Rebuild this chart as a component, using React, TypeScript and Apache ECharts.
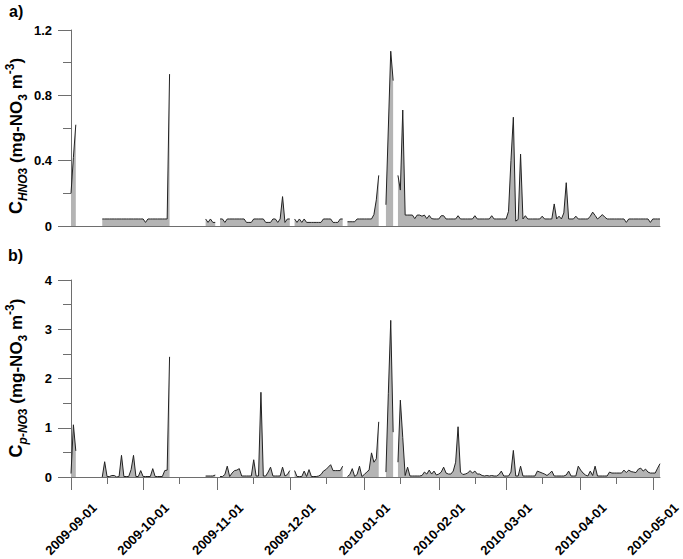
import React, { useEffect, useRef } from "react";
import * as echarts from "echarts";

// x positions are day offsets from 2009-09-01
const monthDays = [0, 30, 61, 91, 122, 153, 181, 212, 242];
const monthLabels = [
  "2009-09-01", "2009-10-01", "2009-11-01", "2009-12-01", "2010-01-01",
  "2010-02-01", "2010-03-01", "2010-04-01", "2010-05-01",
];
const midMonthDays = [15, 45, 76, 106, 137, 168, 196, 227];
const lastDay = 245;

// Panel a) gaseous HNO3 (mg-NO3 m-3), one value per day, null = no data
const hno3: (number | null)[] = [
  0.2, 0.42, 0.62, null, null, null, null, null, null, null,
  null, null, null, 0.043, 0.043, 0.043, 0.043, 0.043, 0.043, 0.043,
  0.043, 0.043, 0.043, 0.043, 0.043, 0.043, 0.043, 0.043, 0.043, 0.043,
  0.043, 0.022, 0.043, 0.043, 0.043, 0.043, 0.043, 0.043, 0.043, 0.043,
  0.043, 0.93, null, null, null, null, null, null, null, null,
  null, null, null, null, null, null, 0.043, 0.022, 0.043, 0.022,
  0.022, null, 0.043, 0.043, 0.022, 0.043, 0.043, 0.043, 0.043, 0.043,
  0.043, 0.043, 0.043, 0.022, 0.022, 0.022, 0.043, 0.043, 0.043, 0.043,
  0.043, 0.022, 0.022, 0.022, 0.043, 0.043, 0.022, 0.043, 0.18, 0.022,
  0.043, 0.043, null, 0.043, 0.022, 0.043, 0.022, 0.043, 0.022, 0.022,
  0.022, 0.022, 0.022, 0.022, 0.022, 0.043, 0.043, 0.043, 0.043, 0.022,
  0.022, 0.022, 0.043, 0.043, null, 0.026, 0.026, 0.026, 0.026, 0.043,
  0.043, 0.043, 0.043, 0.043, 0.043, 0.043, 0.07, 0.16, 0.31, null,
  null, 0.13, 0.6, 1.07, 0.89, null, 0.31, 0.22, 0.71, 0.067,
  0.067, 0.067, 0.067, 0.045, 0.067, 0.067, 0.06, 0.067, 0.045, 0.065,
  0.045, 0.043, 0.043, 0.043, 0.063, 0.063, 0.043, 0.043, 0.043, 0.043,
  0.043, 0.063, 0.043, 0.043, 0.043, 0.043, 0.043, 0.043, 0.063, 0.043,
  0.043, 0.043, 0.043, 0.043, 0.043, 0.063, 0.043, 0.043, 0.043, 0.043,
  0.043, 0.043, 0.09, 0.4, 0.666, 0.03, 0.04, 0.44, 0.043, 0.063,
  0.043, 0.043, 0.043, 0.043, 0.043, 0.043, 0.06, 0.043, 0.043, 0.043,
  0.043, 0.135, 0.043, 0.06, 0.043, 0.08, 0.265, 0.043, 0.043, 0.043,
  0.06, 0.043, 0.043, 0.043, 0.043, 0.043, 0.06, 0.085, 0.065, 0.043,
  0.055, 0.07, 0.055, 0.043, 0.043, 0.043, 0.043, 0.043, 0.043, 0.043,
  0.043, 0.022, 0.043, 0.043, 0.043, 0.043, 0.043, 0.043, 0.043, 0.043,
  0.043, 0.022, 0.043, 0.043, 0.043, 0.043,
];

// Panel b) particulate NO3 (mg-NO3 m-3)
const pno3: (number | null)[] = [
  0.07, 1.06, 0.53, null, null, null, null, null, null, null,
  null, null, null, 0.0, 0.31, 0.01, 0.01, 0.03, 0.03, 0.0,
  0.01, 0.44, 0.01, 0.01, 0.01, 0.15, 0.44, 0.01, 0.01, 0.13,
  0.01, 0.01, 0.01, 0.01, 0.17, 0.01, 0.01, 0.01, 0.01, 0.13,
  0.14, 2.44, null, null, null, null, null, null, null, null,
  null, null, null, null, null, null, 0.02, 0.02, 0.02, 0.02,
  0.04, null, 0.01, 0.01, 0.05, 0.22, 0.01, 0.08, 0.13, 0.14,
  0.17, 0.02, 0.02, 0.02, 0.02, 0.02, 0.35, 0.02, 0.02, 1.72,
  0.02, 0.02, 0.1, 0.2, 0.02, 0.02, 0.02, 0.02, 0.2, 0.02,
  0.05, 0.13, null, 0.13, 0.01, 0.01, 0.01, 0.12, 0.01, 0.15,
  0.01, 0.01, 0.01, 0.02, 0.05, 0.12, 0.15, 0.2, 0.25, 0.13,
  0.13, 0.13, 0.13, 0.22, null, 0.01, 0.05, 0.17, 0.01, 0.05,
  0.22, 0.01, 0.05, 0.1, 0.14, 0.49, 0.3, 0.37, 1.12, null,
  null, 0.1, 1.7, 3.18, 0.91, null, 0.3, 1.56, 0.8, 0.03,
  0.2, 0.02, 0.02, 0.02, 0.02, 0.02, 0.03, 0.1, 0.06, 0.14,
  0.06, 0.12, 0.04, 0.06, 0.1, 0.2, 0.08, 0.06, 0.06, 0.12,
  0.3, 1.02, 0.1, 0.05, 0.06, 0.08, 0.13, 0.08, 0.12, 0.06,
  0.06, 0.03, 0.02, 0.03, 0.02, 0.03, 0.02, 0.02, 0.05, 0.12,
  0.02, 0.02, 0.02, 0.1, 0.54, 0.02, 0.02, 0.22, 0.02, 0.02,
  0.02, 0.02, 0.02, 0.02, 0.12, 0.1, 0.08, 0.06, 0.03, 0.07,
  0.12, 0.02, 0.02, 0.02, 0.02, 0.02, 0.04, 0.12, 0.02, 0.02,
  0.02, 0.22, 0.14, 0.08, 0.04, 0.02, 0.12, 0.03, 0.22, 0.02,
  0.02, 0.02, 0.02, 0.02, 0.1, 0.08, 0.08, 0.08, 0.08, 0.08,
  0.14, 0.09, 0.14, 0.11, 0.1, 0.09, 0.16, 0.18, 0.12, 0.16,
  0.1, 0.08, 0.08, 0.08, 0.18, 0.27,
];

const FONT = '"Liberation Sans", Arial, Helvetica, sans-serif';
const AXIS_GRAY = "#6e6e6e";
const FILL = "#b4b4b4";
const LINE = "#222222";

function titleRich() {
  return {
    c: { fontSize: 18, fontWeight: "bold", fontFamily: FONT, lineHeight: 26 },
    n: { fontSize: 17, fontWeight: "bold", fontFamily: FONT, lineHeight: 26 },
    subi: { fontSize: 12, fontWeight: "bold", fontStyle: "italic", fontFamily: FONT, lineHeight: 13, padding: [13, 0, 0, 0] },
    sub: { fontSize: 12, fontWeight: "bold", fontFamily: FONT, lineHeight: 13, padding: [13, 0, 0, 0] },
    sup: { fontSize: 12, fontWeight: "bold", fontFamily: FONT, lineHeight: 13, padding: [0, 0, 13, 0] },
  };
}

export default function App() {
  const ref = useRef<HTMLDivElement>(null);

  useEffect(() => {
    if (!ref.current) return;
    const chart = echarts.init(ref.current, null, { renderer: "svg" });

    const yLabel = {
      color: "#000",
      fontFamily: FONT,
      fontWeight: "bold",
      fontSize: 13,
      margin: 19,
    };

    const option: any = {
      animation: false,
      backgroundColor: "#fff",
      grid: [
        { left: 71, top: 30, width: 589, height: 196, outerBoundsMode: "none" },
        { left: 71, top: 280, width: 589, height: 197, outerBoundsMode: "none" },
      ],
      xAxis: [
        {
          type: "value", gridIndex: 0, min: 0, max: lastDay, position: "bottom",
          axisLine: { show: true, lineStyle: { color: AXIS_GRAY, width: 1 } },
          axisTick: { show: false },
          axisLabel: { show: false },
          splitLine: { show: false },
        },
        {
          type: "value", gridIndex: 1, min: 0, max: lastDay, position: "bottom",
          axisLine: { show: true, lineStyle: { color: AXIS_GRAY, width: 1 } },
          axisTick: { show: true, length: 13, customValues: monthDays, lineStyle: { color: AXIS_GRAY } },
          axisLabel: {
            show: true,
            customValues: monthDays,
            formatter: (v: number) => {
              const k = monthDays.indexOf(Math.round(v));
              return k >= 0 ? monthLabels[k] : "";
            },
            rotate: 45,
            align: "center",
            verticalAlign: "middle",
            margin: 52,
            color: "#000",
            fontFamily: FONT,
            fontWeight: "bold",
            fontSize: 13,
          },
          splitLine: { show: false },
        },
        {
          type: "value", gridIndex: 1, min: 0, max: lastDay, position: "bottom",
          axisLine: { show: false },
          axisTick: { show: true, length: 7, customValues: midMonthDays, lineStyle: { color: AXIS_GRAY } },
          axisLabel: { show: false },
          splitLine: { show: false },
        },
      ],
      yAxis: [
        {
          type: "value", gridIndex: 0, min: 0, max: 1.2, interval: 0.4,
          axisLine: { show: true, lineStyle: { color: AXIS_GRAY, width: 1 } },
          axisTick: { show: true, length: 13, lineStyle: { color: AXIS_GRAY } },
          minorTick: { show: true, splitNumber: 2, length: 8, lineStyle: { color: AXIS_GRAY } },
          axisLabel: {
            ...yLabel,
            formatter: (v: number) => (Math.abs(v) < 1e-9 ? "0" : (Math.round(v * 10) / 10).toFixed(1)),
          },
          splitLine: { show: false },
          minorSplitLine: { show: false },
        },
        {
          type: "value", gridIndex: 1, min: 0, max: 4, interval: 1,
          axisLine: { show: true, lineStyle: { color: AXIS_GRAY, width: 1 } },
          axisTick: { show: true, length: 13, lineStyle: { color: AXIS_GRAY } },
          minorTick: { show: true, splitNumber: 2, length: 8, lineStyle: { color: AXIS_GRAY } },
          axisLabel: { ...yLabel, formatter: (v: number) => String(Math.round(v)) },
          splitLine: { show: false },
          minorSplitLine: { show: false },
        },
      ],
      series: [
        {
          name: "HNO3",
          type: "line",
          xAxisIndex: 0,
          yAxisIndex: 0,
          data: hno3.map((v, i) => [i, v]),
          showSymbol: false,
          symbol: "none",
          connectNulls: false,
          lineStyle: { color: LINE, width: 1 },
          areaStyle: { color: FILL, opacity: 1 },
          emphasis: { disabled: true },
        },
        {
          name: "p-NO3",
          type: "line",
          xAxisIndex: 1,
          yAxisIndex: 1,
          data: pno3.map((v, i) => [i, v]),
          showSymbol: false,
          symbol: "none",
          connectNulls: false,
          lineStyle: { color: LINE, width: 1 },
          areaStyle: { color: FILL, opacity: 1 },
          emphasis: { disabled: true },
        },
      ],
      graphic: [
        {
          type: "text", left: 9, top: 3,
          style: { text: "a)", fill: "#000", font: `bold 16px ${FONT}` },
        },
        {
          type: "text", left: 8, top: 247,
          style: { text: "b)", fill: "#000", font: `bold 16px ${FONT}` },
        },
        {
          type: "text", x: 16, y: 136, rotation: Math.PI / 2,
          style: {
            text: "{c|C}{subi|HNO}{sub|3}{n| (mg-NO}{sub|3}{n| m}{sup|-3}{n|)}",
            rich: titleRich(),
            fill: "#000",
            align: "center",
            verticalAlign: "middle",
          },
        },
        {
          type: "text", x: 16, y: 378, rotation: Math.PI / 2,
          style: {
            text: "{c|C}{subi|p-NO}{sub|3}{n| (mg-NO}{sub|3}{n| m}{sup|-3}{n|)}",
            rich: titleRich(),
            fill: "#000",
            align: "center",
            verticalAlign: "middle",
          },
        },
      ],
    };

    chart.setOption(option);
    return () => chart.dispose();
  }, []);

  return (
    <div
      ref={ref}
      style={{ position: "fixed", left: 0, top: 0, width: 683, height: 559, background: "#fff" }}
    />
  );
}
